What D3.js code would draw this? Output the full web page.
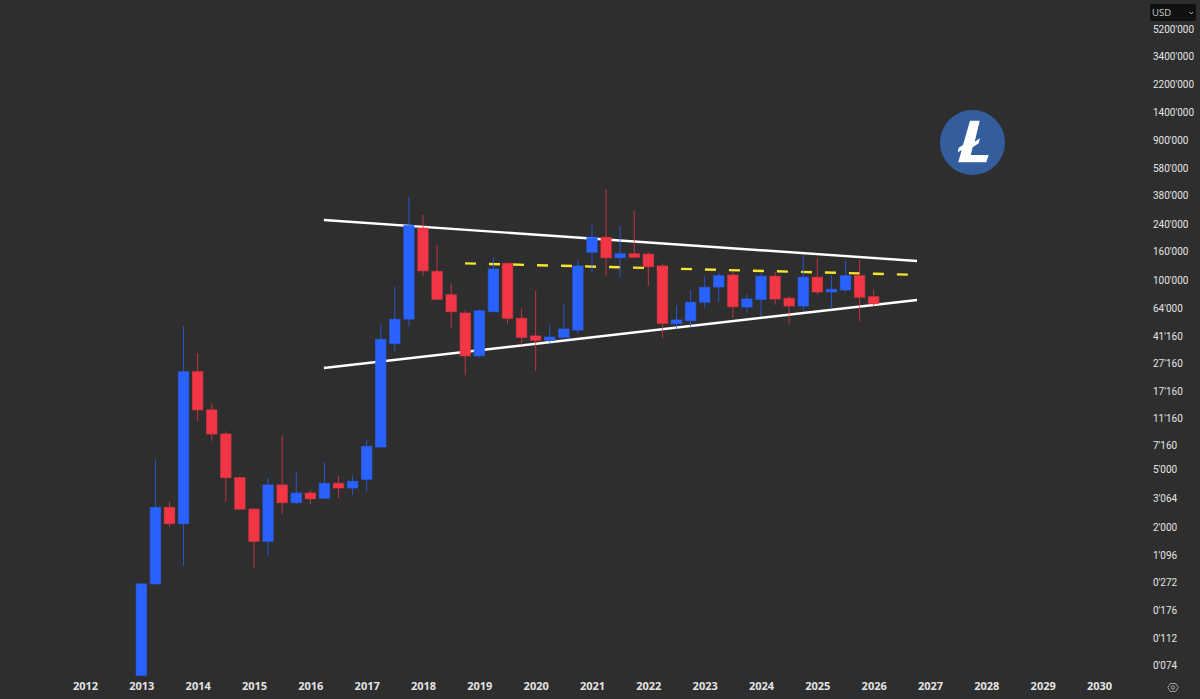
<!DOCTYPE html>
<html>
<head>
<meta charset="utf-8">
<title>LTCUSD</title>
<script src="https://cdn.jsdelivr.net/npm/d3@7"></script>
<style>
  html, body { margin: 0; padding: 0; background: #2e2e2e; overflow: hidden; }
  svg { display: block; }
  text { font-family: "Open Sans", "Noto Sans", sans-serif; }
  .domain { display: none; }
</style>
</head>
<body>
<svg id="chart" width="1200" height="699"></svg>
<script>
// quarterly candles
var quarters = [2013, 2013.25, 2013.5, 2013.75, 2014, 2014.25, 2014.5, 2014.75, 2015, 2015.25, 2015.5, 2015.75,
  2016, 2016.25, 2016.5, 2016.75, 2017, 2017.25, 2017.5, 2017.75, 2018, 2018.25, 2018.5, 2018.75,
  2019, 2019.25, 2019.5, 2019.75, 2020, 2020.25, 2020.5, 2020.75, 2021, 2021.25, 2021.5, 2021.75,
  2022, 2022.25, 2022.5, 2022.75, 2023, 2023.25, 2023.5, 2023.75, 2024, 2024.25, 2024.5, 2024.75,
  2025, 2025.25, 2025.5, 2025.75, 2026];
var opens = [0.063, 0.264, 2.67, 2.10, 23.55, 12.7, 8.58, 4.32, 2.60, 1.47, 3.82, 2.86,
  3.33, 3.05, 3.93, 3.63, 4.20, 6.95, 36.6, 53.7, 226, 115, 79.1, 59.1,
  30.3, 60.4, 131, 54.4, 41.2, 38.5, 40.3, 45.2, 157, 196.5, 143.5, 153,
  152, 125.5, 50, 52.4, 70.1, 89.4, 108.4, 65, 73.5, 106.2, 74.7, 66.1,
  104.6, 82.6, 85.3, 107.2, 76.6];
var closes = [0.264, 2.67, 2.10, 23.55, 12.7, 8.58, 4.32, 2.60, 1.47, 3.82, 2.86, 3.33,
  3.03, 3.93, 3.63, 4.06, 7.02, 39.1, 53.6, 235, 116, 73.5, 60.4, 30.3,
  61.3, 119.5, 54.4, 40.3, 38.5, 40.5, 46, 125.5, 196.5, 143.5, 153, 144.5,
  124, 50.3, 53, 70.1, 89, 107.2, 65.3, 73.9, 106.2, 73.9, 66.1, 104.6,
  82.6, 86.2, 107.2, 75.9, 68.5];
var highs = [0.269, 5.78, 2.89, 48.2, 31.7, 14.1, 8.97, 4.42, 2.64, 4.32, 8.40, 4.78,
  3.51, 5.53, 4.44, 4.50, 7.73, 49.7, 89.9, 368, 277, 175, 94.9, 61.7,
  62.7, 144.5, 131.5, 63.7, 83.9, 49.7, 68.2, 140, 240, 415, 233, 296,
  157, 131, 67.1, 85.3, 106.7, 112.6, 114.4, 79.6, 111.5, 114.4, 77.1, 150,
  142.8, 107.9, 136, 138, 85.3];
var lows = [0.063, 0.262, 2.0, 0.631, 10.6, 7.68, 2.90, 2.57, 0.552, 1.08, 2.43, 2.78,
  2.79, 3.03, 3.08, 3.22, 3.41, 6.85, 32.5, 47.7, 107, 72.7, 46.9, 22.2,
  29.5, 60.4, 50, 35.8, 23.8, 36.8, 40.3, 42.7, 113, 106, 104.6, 143.5,
  91.3, 39.9, 46, 47.2, 64.3, 70.8, 54.7, 59.4, 56.4, 67.5, 49.5, 61.3,
  79.1, 63, 82.6, 51.9, 65];

// trend lines, [year, price]
var upperLine = [[2016.24, 255.8], [2026.77, 136]];
var lowerLine = [[2016.24, 25], [2026.77, 72.7]];
var midLine = [[2018.746, 131], [2026.63, 109]];

// the price axis as printed, it is not a clean log axis
var priceTicks = [5200, 3400, 2200, 1400, 900, 580, 380, 240, 160, 100, 64, 41.16, 27.16, 17.16, 11.16, 7.16,
  5, 3.064, 2, 1.096, 0.272, 0.176, 0.112, 0.074];
var priceLabels = ["5200'000", "3400'000", "2200'000", "1400'000", "900'000", "580'000", "380'000", "240'000",
  "160'000", "100'000", "64'000", "41'160", "27'160", "17'160", "11'160", "7'160",
  "5'000", "3'064", "2'000", "1'096", "0'272", "0'176", "0'112", "0'074"];
var yearTicks = d3.range(2012, 2031);

var priceRows = [29, 56, 84, 112, 140, 168, 195, 224, 251, 280, 308, 336, 363, 391, 418, 445,
  469, 498, 527, 555, 582, 610, 638, 665];

var blue = '#2962ff',
    red = '#f23645',
    bodyWidth = 10.4;

var svg = d3.select('#chart');
svg.append('rect').attr('width', 1200).attr('height', 699).attr('fill', '#2e2e2e');

var x = d3.scaleLinear().domain([2012, 2030]).range([85, 1099]);
var y = d3.scaleLog().domain(priceTicks).range(priceRows);

// year axis
var xAxis = svg.append('g')
  .attr('transform', 'translate(0,681.5)')
  .call(d3.axisBottom(x).tickValues(yearTicks).tickFormat(d3.format('d')).tickSize(0).tickPadding(1));
xAxis.selectAll('text')
  .attr('fill', '#e4e4e4')
  .style('font-size', '11px')
  .style('font-weight', '700');

// price axis
var yAxis = svg.append('g')
  .attr('transform', 'translate(1153,0)')
  .call(d3.axisRight(y).tickValues(priceTicks)
    .tickFormat((d, i) => priceLabels[i]).tickSize(0).tickPadding(0));
yAxis.selectAll('text')
  .attr('fill', '#e4e4e4')
  .style('font-family', 'Roboto, sans-serif')
  .style('font-size', '10px');

// trend lines sit behind the candles
var linePath = d3.line().x(d => x(d[0])).y(d => y(d[1]));
[upperLine, lowerLine].forEach((points) => {
  svg.append('path')
    .attr('d', linePath(points))
    .attr('fill', 'none')
    .attr('stroke', '#ffffff')
    .attr('stroke-width', 2.4);
});
svg.append('path')
  .attr('d', linePath(midLine))
  .attr('fill', 'none')
  .attr('stroke', '#f5e52b')
  .attr('stroke-width', 2.4)
  .attr('stroke-dasharray', '11 13');

// candles
var candles = svg.append('g')
  .selectAll('g')
  .data(quarters)
  .join('g')
  .attr('fill', (d, i) => closes[i] >= opens[i] ? blue : red)
  .attr('stroke', (d, i) => closes[i] >= opens[i] ? blue : red);

candles.append('line')
  .attr('x1', d => x(d))
  .attr('x2', d => x(d))
  .attr('y1', (d, i) => y(highs[i]))
  .attr('y2', (d, i) => y(lows[i]))
  .attr('stroke-width', 1)
  .attr('stroke-opacity', 0.75);

candles.append('rect')
  .attr('x', d => x(d) - bodyWidth / 2)
  .attr('width', bodyWidth)
  .attr('y', (d, i) => y(Math.max(opens[i], closes[i])))
  .attr('height', (d, i) => Math.abs(y(opens[i]) - y(closes[i])))
  .attr('stroke-width', 1)
  .attr('stroke-opacity', 0.6);

// litecoin logo
var logo = svg.append('g').attr('transform', 'translate(972.5,142.5)');
logo.append('circle').attr('r', 32.5).attr('fill', '#345d9d');
logo.append('path')
  .attr('fill', '#ffffff')
  .attr('d', 'M-2.5,-21.8 L7.2,-21.8 L2.2,-0.8 L7.5,-4.2 L6.2,0.8 L0.2,4.8 L-1.8,12.5 L16.2,12.5 L13.8,19.8 L-14.2,19.8 L-10.8,7.5 L-14.8,9.8 L-13.8,5.2 L-9.5,2.5 Z');

// currency box and settings icon
svg.append('rect')
  .attr('x', 1150).attr('y', 4).attr('width', 46).attr('height', 17).attr('rx', 2)
  .attr('fill', '#101010');
svg.append('text')
  .attr('x', 1152).attr('y', 16)
  .attr('fill', '#d0d0d0')
  .style('font-size', '9.5px')
  .text('USD');
svg.append('path')
  .attr('d', 'M1189.5,12 L1191.3,13.8 L1193,12')
  .attr('fill', 'none')
  .attr('stroke', '#c8c8c8')
  .attr('stroke-width', 1);

var gear = svg.append('g').attr('transform', 'translate(1173,687.5)')
  .attr('fill', 'none').attr('stroke', '#bdbdbd').attr('stroke-width', 0.8);
gear.append('path').attr('d', 'M-5.2,0 L-2.6,-4 L2.6,-4 L5.2,0 L2.6,4 L-2.6,4 Z');
gear.append('circle').attr('r', 1.7);
</script>
</body>
</html>
